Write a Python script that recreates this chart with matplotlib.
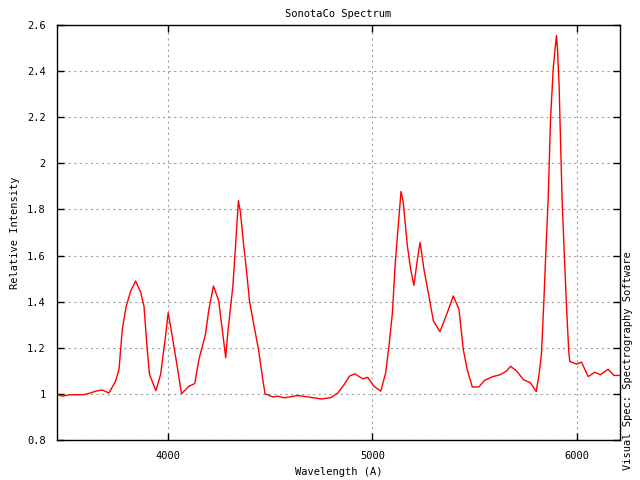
import matplotlib

matplotlib.use("Agg")
import matplotlib.pyplot as plt
from matplotlib.ticker import FixedLocator

# wavelength (A) and relative intensity
wavelength = [
    3462, 3486, 3519, 3592, 3624, 3649, 3681, 3714, 3746, 3763, 3779, 3798,
    3820, 3844, 3869, 3885, 3901, 3912, 3943, 3966, 3990, 4003, 4023, 4047,
    4068, 4104, 4133, 4153, 4185, 4202, 4224, 4250, 4265, 4284, 4294, 4319,
    4332, 4346, 4356, 4372, 4384, 4400, 4424, 4444, 4465, 4476, 4514, 4538,
    4571, 4636, 4685, 4750, 4798, 4831, 4863, 4888, 4915, 4953, 4977, 5008,
    5041, 5065, 5081, 5098, 5111, 5125, 5140, 5151, 5171, 5187, 5203, 5220,
    5233, 5252, 5276, 5298, 5330, 5366, 5395, 5423, 5444, 5463, 5488, 5520,
    5548, 5585, 5626, 5655, 5675, 5705, 5737, 5772, 5800, 5815, 5826, 5837,
    5847, 5859, 5870, 5883, 5894, 5899, 5904, 5912, 5919, 5927, 5937, 5948,
    5959, 5964, 5997, 6021, 6054, 6086, 6114, 6151, 6180, 6210,
]
intensity = [
    0.997, 0.990, 0.996, 0.997, 1.004, 1.012, 1.017, 1.004, 1.055, 1.106,
    1.280, 1.380, 1.446, 1.490, 1.440, 1.380, 1.190, 1.084, 1.014, 1.084,
    1.250, 1.352, 1.250, 1.120, 1.001, 1.033, 1.045, 1.149, 1.258, 1.367,
    1.468, 1.403, 1.294, 1.157, 1.265, 1.468, 1.642, 1.838, 1.787, 1.642,
    1.548, 1.403, 1.287, 1.193, 1.062, 1.000, 0.987, 0.990, 0.983, 0.993,
    0.987, 0.978, 0.984, 1.004, 1.041, 1.077, 1.087, 1.065, 1.072, 1.033,
    1.012, 1.091, 1.207, 1.352, 1.555, 1.714, 1.878, 1.830, 1.642, 1.540,
    1.471, 1.584, 1.657, 1.540, 1.425, 1.316, 1.270, 1.352, 1.425, 1.367,
    1.193, 1.106, 1.030, 1.030, 1.059, 1.074, 1.084, 1.099, 1.120, 1.099,
    1.062, 1.048, 1.010, 1.090, 1.177, 1.394, 1.612, 1.858, 2.191, 2.409,
    2.510, 2.554, 2.496, 2.336, 2.090, 1.829, 1.612, 1.380, 1.184, 1.141,
    1.129, 1.138, 1.075, 1.094, 1.083, 1.107, 1.080, 1.080,
]
x_ticks = [4000, 5000, 6000]
y_ticks = [0.8, 1.0, 1.2, 1.4, 1.6, 1.8, 2.0, 2.2, 2.4, 2.6]
y_tick_labels = ["0.8", "1", "1.2", "1.4", "1.6", "1.8", "2", "2.2", "2.4", "2.6"]

plt.rcParams.update({
    "font.family": "DejaVu Sans Mono",
    "font.size": 7.5,
})

fig = plt.figure(figsize=(6.4, 4.8), dpi=100)
ax = fig.add_axes([0.089, 0.0833, 0.880, 0.8647])
ax.plot(wavelength, intensity, color="#ff0000", lw=1.0)

ax.set_xlim(3460, 6210)
ax.set_ylim(0.8, 2.6)
ax.xaxis.set_major_locator(FixedLocator(x_ticks))
ax.set_yticks(y_ticks)
ax.set_yticklabels(y_tick_labels)
ax.tick_params(direction="in", length=5, width=1, top=True, right=True,
               labeltop=False, labelright=False, colors="black", pad=8)
for s in ax.spines.values():
    s.set_linewidth(1.0)
ax.grid(True, color="#a0a0a0", ls=(0, (2, 3)), lw=0.8)

ax.set_title("SonotaCo Spectrum", fontsize=7.5, pad=6)
ax.set_xlabel("Wavelength (A)", labelpad=4)
ax.set_ylabel("Relative Intensity", labelpad=5)
fig.text(0.982, 0.02, "Visual Spec: Spectrography Software", rotation=90,
         ha="center", va="bottom", fontsize=7.5)

fig.savefig("out.png", dpi=100, facecolor="white")
